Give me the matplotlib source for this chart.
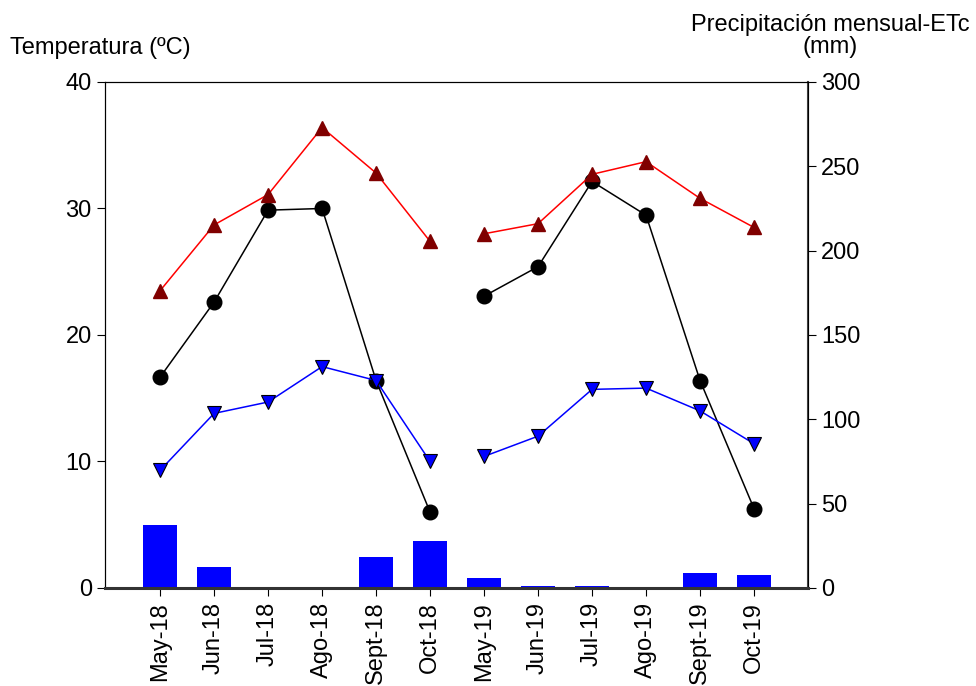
import numpy as np
import matplotlib
matplotlib.use("Agg")
import matplotlib.pyplot as plt

plt.rcParams['font.family'] = ['Liberation Sans', 'DejaVu Sans']

# data
months = ["May-18", "Jun-18", "Jul-18", "Ago-18", "Sept-18", "Oct-18",
          "May-19", "Jun-19", "Jul-19", "Ago-19", "Sept-19", "Oct-19"]
tmax = [23.5, 28.7, 31.1, 36.4, 32.8, 27.4, 28.0, 28.8, 32.7, 33.7, 30.8, 28.5]
tmin = [9.3, 13.8, 14.7, 17.5, 16.4, 10.0, 10.4, 12.0, 15.7, 15.8, 14.0, 11.4]
etc_mm = [125, 169.5, 224, 225, 123, 45, 173, 190.5, 241, 221, 123, 47]
precip_mm = [37.3, 12.4, 0, 0, 18.4, 27.9, 5.9, 1.2, 1.2, 0, 8.9, 7.7]

x = np.arange(len(months))
seg1 = slice(0, 6)
seg2 = slice(6, 12)

fig = plt.figure(figsize=(9.76, 6.86), dpi=100)
ax = fig.add_axes([0.1076, 0.1429, 0.7203, 0.7376])
ax2 = ax.twinx()

# precipitation bars and ETc on right axis
ax2.bar(x, precip_mm, width=0.63, color="#0000ff", zorder=1)
for s in (seg1, seg2):
    ax2.plot(x[s], np.array(etc_mm)[s], color="black", linewidth=1.1,
             marker="o", markersize=10.5, markerfacecolor="black", zorder=3)

# temperatures on left axis
ax.set_zorder(ax2.get_zorder() + 1)
ax.patch.set_visible(False)
for s in (seg1, seg2):
    ax.plot(x[s], np.array(tmax)[s], color="red", linewidth=1.1,
            marker="^", markersize=10, markerfacecolor="#800000",
            markeredgecolor="#800000")
    ax.plot(x[s], np.array(tmin)[s], color="blue", linewidth=1.1,
            marker="v", markersize=10, markerfacecolor="blue",
            markeredgecolor="black", markeredgewidth=0.8)

ax.set_xlim(-1.02, 12.0)
ax.set_ylim(0, 40)
ax2.set_ylim(0, 300)
ax.set_yticks([0, 10, 20, 30, 40])
ax2.set_yticks([0, 50, 100, 150, 200, 250, 300])
ax.set_xticks(x)
ax.set_xticklabels(months, rotation=90, fontsize=17)
ax.tick_params(axis="y", labelsize=17, length=6, direction="out")
ax2.tick_params(axis="y", labelsize=17, length=6, direction="out")
ax.tick_params(axis="x", length=6, direction="out", pad=4)

ax.spines["bottom"].set_linewidth(2.2)
ax.spines["bottom"].set_color("#333333")
ax2.spines["right"].set_color("#444444")
ax2.spines["right"].set_linewidth(1.5)
ax2.spines["bottom"].set_visible(False)

fig.text(0.01, 0.93, "Temperatura (ºC)", fontsize=17, ha="left", va="center")
fig.text(0.851, 0.948, "Precipitación mensual-ETc\n(mm)", fontsize=17,
         ha="center", va="center", linespacing=1.0)

fig.savefig("out.png", dpi=100)
